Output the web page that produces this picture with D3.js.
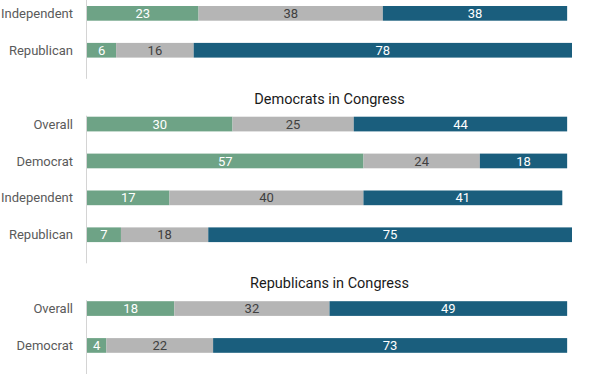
<!DOCTYPE html>
<html>
<head>
<meta charset="utf-8">
<script src="https://cdn.jsdelivr.net/npm/d3@7"></script>
<style>
  body { margin: 0; background: #fff; }
  svg { display: block; font-family: Roboto, sans-serif; }
</style>
</head>
<body>
<div id="chart"></div>
<script>
// series (left to right in each bar)
var keys = ["positive", "mixed", "negative"];
var colors = ["#6ea386", "#b5b5b5", "#1a5e7d"];
var textColors = ["#ffffff", "#404040", "#ffffff"];

// panels, as they show in the picture (the first one is cut at the top)
var panelTitles = ["", "Democrats in Congress", "Republicans in Congress"];
var panelRows = [
  ["Independent", "Republican"],
  ["Overall", "Democrat", "Independent", "Republican"],
  ["Overall", "Democrat"]
];
var positiveVals = [[23, 6], [30, 57, 17, 7], [18, 4]];
var mixedVals    = [[38, 16], [25, 24, 40, 18], [32, 22]];
var negativeVals = [[38, 78], [44, 18, 41, 75], [49, 73]];

var width = 596,
    height = 374;

var svg = d3.select("#chart").append("svg")
    .attr("width", width)
    .attr("height", height);

// one slot per row, plus a slot for each panel title
var slots = [], rows = [];
panelTitles.forEach(function(t, p) {
  if (t) slots.push({ id: "t" + p, title: t, panel: p });
  panelRows[p].forEach(function(r, i) {
    var d = { id: p + "-" + i, label: r, panel: p,
      positive: positiveVals[p][i], mixed: mixedVals[p][i], negative: negativeVals[p][i] };
    slots.push(d);
    rows.push(d);
  });
});

var x = d3.scaleLinear().domain([0, 100]).range([87, 572]);
var y = d3.scaleBand()
    .domain(slots.map(function(d) { return d.id; }))
    .range([5, height]);

var step = y.step(),
    barH = 14.7;

// axis line for each panel
panelRows.forEach(function(r, p) {
  var y0 = p === 0 ? 0 : y(p + "-0");
  var y1 = y(p + "-" + (r.length - 1)) + step;
  svg.append("line")
      .attr("x1", 86.5).attr("x2", 86.5)
      .attr("y1", y0).attr("y2", Math.min(y1, height))
      .attr("stroke", "#d4d4d4")
      .attr("stroke-width", 1);
});

// panel titles
svg.selectAll(".title")
    .data(slots.filter(function(d) { return d.title; }))
  .enter().append("text")
    .attr("class", "title")
    .attr("x", (x(0) + x(100)) / 2)
    .attr("y", function(d) { return y(d.id) + step - 12; })
    .attr("text-anchor", "middle")
    .style("font-size", "14.5px")
    .style("fill", "#1a1a1a")
    .text(function(d) { return d.title; });

// row labels
svg.selectAll(".label")
    .data(rows)
  .enter().append("text")
    .attr("class", "label")
    .attr("x", 73)
    .attr("y", function(d) { return y(d.id) + 1 + barH / 2; })
    .attr("dy", ".35em")
    .attr("text-anchor", "end")
    .style("font-size", "13px")
    .style("fill", "#5a5a5a")
    .text(function(d) { return d.label; });

var stacked = d3.stack().keys(keys)(rows);

var layer = svg.selectAll(".layer")
    .data(stacked)
  .enter().append("g")
    .attr("class", "layer");

layer.selectAll("rect")
    .data(function(s) { return s; })
  .enter().append("rect")
    .attr("x", function(d) { return x(d[0]); })
    .attr("y", function(d) { return y(d.data.id) + 1; })
    .attr("width", function(d) { return x(d[1]) - x(d[0]); })
    .attr("height", barH)
    .attr("fill", function(d, i, nodes) { return colors[d3.select(nodes[i].parentNode).datum().index]; });

layer.selectAll("text")
    .data(function(s) { return s; })
  .enter().append("text")
    .attr("x", function(d) { return (x(d[0]) + x(d[1])) / 2; })
    .attr("y", function(d) { return y(d.data.id) + 1 + barH / 2; })
    .attr("dy", ".35em")
    .attr("text-anchor", "middle")
    .style("font-size", "13px")
    .style("fill", function(d, i, nodes) { return textColors[d3.select(nodes[i].parentNode).datum().index]; })
    .text(function(d) { return d[1] - d[0]; });
</script>
</body>
</html>
